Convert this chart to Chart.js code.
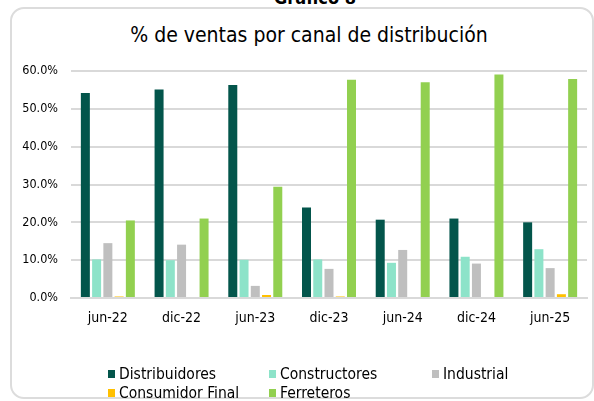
<!DOCTYPE html>
<html>
<head>
<meta charset="utf-8">
<script src="https://cdn.jsdelivr.net/npm/chart.js@4.4.1/dist/chart.umd.min.js"></script>
<style>
  html, body { margin: 0; padding: 0; background: #fff; overflow: hidden; }
  body { width: 594px; height: 401px; position: relative; font-family: "DejaVu Sans Condensed", "DejaVu Sans", sans-serif; }
  #frame { position: absolute; left: 10px; top: 7px; width: 584px; height: 392px; border: 2px solid #dcdcdc; border-radius: 14px; box-sizing: border-box; }
  #supTitle { position: absolute; left: 0; width: 630px; top: -11px; line-height: 18px; text-align: center; font-weight: bold; font-size: 18px; color: #000; }
  #title { position: absolute; left: 0; width: 618px; top: 23px; line-height: 24px; text-align: center; font-size: 21px; color: #000; }
  #wrap { position: absolute; left: 0; top: 0; width: 594px; height: 401px; }
  #legend { position: absolute; left: 0; top: 0; }
  .item { position: absolute; display: flex; align-items: center; font-size: 15.5px; color: #000; white-space: nowrap; }
  .box { width: 7px; height: 8px; margin-right: 4px; }
</style>
</head>
<body>
<div id="supTitle">Gráfico 8</div>
<div id="frame"></div>
<div id="title">% de ventas por canal de distribución</div>
<div id="wrap"><canvas id="myChart"></canvas></div>
<div id="legend"></div>
<script>
// data
const periods = ["jun-22", "dic-22", "jun-23", "dic-23", "jun-24", "dic-24", "jun-25"];
const distribuidores = [54.2, 55.1, 56.3, 23.9, 20.7, 21.0, 20.0];
const constructores = [10.2, 10.0, 10.1, 10.2, 9.3, 10.9, 12.9];
const industrial = [14.5, 14.1, 3.2, 7.7, 12.7, 9.1, 7.9];
const consumidorFinal = [0.4, 0.0, 0.8, 0.4, 0.0, 0.0, 1.0];
const ferreteros = [20.5, 21.0, 29.4, 57.7, 57.0, 59.1, 57.9];
const yTicks = [0, 10, 20, 30, 40, 50, 60];

const seriesNames = ["Distribuidores", "Constructores", "Industrial", "Consumidor Final", "Ferreteros"];
const seriesValues = [distribuidores, constructores, industrial, consumidorFinal, ferreteros];
const seriesColors = ["#03554B", "#8DE3C9", "#BFBFBF", "#FFC000", "#92D050"];

const font = "'DejaVu Sans Condensed', 'DejaVu Sans', sans-serif";

const data = {
  labels: periods,
  datasets: seriesNames.map((name, i) => ({
    label: name,
    data: seriesValues[i],
    backgroundColor: seriesColors[i],
    borderWidth: 0,
    barPercentage: 0.8,
    categoryPercentage: 0.763,
  })),
};

const config = {
  type: "bar",
  data,
  options: {
    responsive: false,
    animation: false,
    layout: { padding: { left: 0, right: 7, top: 71, bottom: 63 } },
    plugins: {
      legend: { display: false },
      tooltip: { enabled: false },
      title: { display: false },
    },
    scales: {
      y: {
        min: 0,
        max: 60,
        afterFit: (s) => { s.width = 71; },
        afterBuildTicks: (s) => { s.ticks = yTicks.map((v) => ({ value: v })); },
        border: { display: false },
        grid: { color: "#d9d9d9", lineWidth: 2, drawTicks: false },
        ticks: {
          padding: 13,
          color: "#000",
          font: { family: font, size: 12.5 },
          callback: (v) => v.toFixed(1) + "%",
        },
      },
      x: {
        afterFit: (s) => { s.height = 40; },
        border: { color: "#d9d9d9", width: 2 },
        grid: { display: false },
        ticks: {
          padding: 4,
          color: "#000",
          maxRotation: 0,
          font: { family: font, size: 14 },
        },
      },
    },
  },
};

const canvas = document.getElementById("myChart");
canvas.width = 594;
canvas.height = 401;
const myChart = new Chart(canvas, config);

// legend laid out in columns like the original
const legendPos = [[108, 374], [269, 374], [432, 374], [108, 393], [269, 393]];
const legend = document.getElementById("legend");
myChart.data.datasets.forEach((ds, i) => {
  const el = document.createElement("div");
  el.className = "item";
  el.style.left = legendPos[i][0] + "px";
  el.style.top = (legendPos[i][1] - 9) + "px";
  el.style.height = "18px";
  el.innerHTML = '<span class="box" style="background:' + ds.backgroundColor + '"></span>' + ds.label;
  legend.appendChild(el);
});
</script>
</body>
</html>
